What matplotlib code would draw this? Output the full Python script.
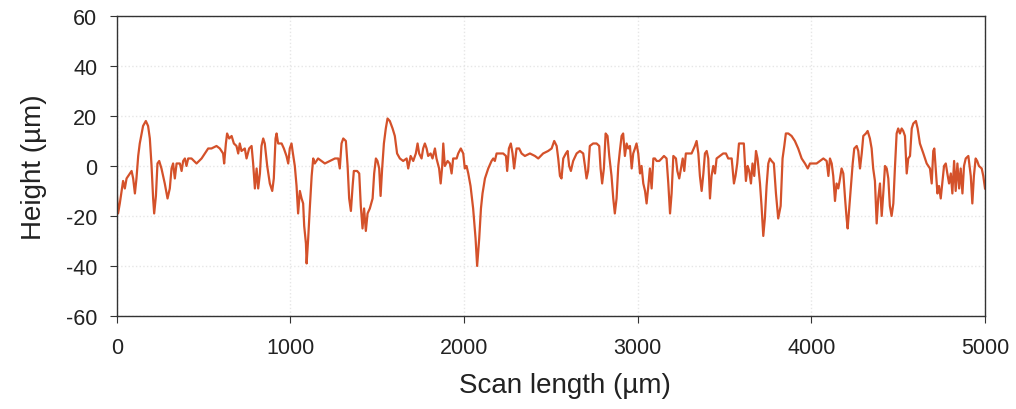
import numpy as np
import matplotlib
matplotlib.use("Agg")
import matplotlib.pyplot as plt

plt.rcParams['font.family'] = ['Liberation Sans', 'DejaVu Sans']
plt.rcParams['axes.unicode_minus'] = False

# surface profile (scan position in um, height in um)
scan_um = [
    0, 7, 17, 36, 46, 56, 75, 85, 94, 104, 113, 123, 132, 151, 167, 180, 190, 200, 209, 215,
    225, 234, 244, 257, 276, 292, 305, 315, 324, 334, 344, 363, 373, 382, 392, 401, 411, 430, 459, 488,
    517, 526, 545, 574, 593, 612, 618, 628, 635, 647, 661, 674, 689, 699, 708, 718, 737, 747, 762, 776,
    785, 795, 805, 814, 824, 833, 843, 852, 866, 881, 895, 904, 914, 920, 929, 949, 962, 977, 987, 996,
    1006, 1012, 1025, 1035, 1044, 1054, 1064, 1073, 1079, 1089, 1093, 1102, 1112, 1122, 1131, 1140, 1159, 1179, 1198, 1227,
    1256, 1275, 1284, 1294, 1304, 1319, 1329, 1338, 1348, 1358, 1365, 1384, 1396, 1405, 1415, 1424, 1434, 1444, 1457, 1473,
    1482, 1492, 1501, 1511, 1519, 1528, 1538, 1549, 1559, 1572, 1588, 1601, 1614, 1630, 1649, 1669, 1678, 1692, 1707, 1722,
    1732, 1741, 1755, 1764, 1774, 1784, 1793, 1807, 1818, 1832, 1841, 1856, 1865, 1874, 1880, 1889, 1905, 1918, 1928, 1937,
    1957, 1966, 1981, 1995, 2004, 2014, 2024, 2037, 2052, 2066, 2075, 2087, 2097, 2106, 2120, 2139, 2158, 2168, 2177, 2187,
    2196, 2225, 2241, 2248, 2258, 2269, 2279, 2288, 2302, 2317, 2331, 2350, 2379, 2408, 2427, 2455, 2484, 2504, 2519, 2533,
    2542, 2552, 2561, 2571, 2586, 2596, 2605, 2615, 2628, 2648, 2667, 2686, 2696, 2705, 2714, 2724, 2743, 2763, 2778, 2786,
    2795, 2805, 2815, 2826, 2836, 2849, 2859, 2868, 2878, 2888, 2897, 2907, 2916, 2926, 2936, 2945, 2955, 2965, 2974, 2984,
    2993, 3003, 3013, 3022, 3032, 3042, 3051, 3061, 3070, 3080, 3090, 3099, 3109, 3124, 3138, 3151, 3166, 3176, 3186, 3195,
    3205, 3220, 3228, 3239, 3249, 3259, 3268, 3277, 3291, 3310, 3329, 3339, 3349, 3358, 3368, 3378, 3387, 3397, 3406, 3416,
    3425, 3435, 3445, 3454, 3473, 3492, 3508, 3521, 3541, 3554, 3563, 3573, 3583, 3598, 3611, 3623, 3633, 3642, 3652, 3661,
    3671, 3681, 3690, 3704, 3713, 3723, 3732, 3742, 3752, 3761, 3771, 3784, 3796, 3809, 3823, 3834, 3844, 3853, 3867, 3886,
    3905, 3924, 3944, 3963, 3979, 3992, 4011, 4030, 4049, 4069, 4088, 4098, 4107, 4117, 4126, 4136, 4145, 4155, 4165, 4174,
    4184, 4194, 4203, 4209, 4218, 4228, 4238, 4247, 4261, 4270, 4280, 4290, 4299, 4314, 4324, 4337, 4347, 4356, 4366, 4376,
    4385, 4395, 4405, 4414, 4424, 4434, 4443, 4452, 4462, 4472, 4481, 4491, 4500, 4510, 4520, 4529, 4539, 4549, 4558, 4568,
    4578, 4587, 4602, 4612, 4625, 4645, 4664, 4683, 4693, 4702, 4708, 4716, 4726, 4735, 4745, 4754, 4764, 4774, 4783, 4793,
    4803, 4812, 4822, 4831, 4841, 4851, 4860, 4870, 4879, 4889, 4904, 4918, 4927, 4936, 4946, 4955, 4965, 4981, 4990, 5000,
]
height_um = [
    -11, -19, -15, -6, -9, -5, -3, -2, -5, -11, -5, 4, 9, 16, 18, 16, 11, 0, -13, -19,
    -12, 1, 2, -1, -7, -13, -9, -1, 1, -5, 1, 1, -2, 2, 3, 0, 3, 3, 1, 3,
    6, 7, 7, 8, 7, 5, 1, 9, 13, 11, 12, 9, 8, 5, 9, 6, 7, 3, 7, 8,
    1, -9, -1, -9, -3, 8, 11, 9, 0, -7, -10, -5, 11, 13, 9, 9, 7, 4, 1, 7,
    9, 6, 0, -8, -19, -10, -13, -15, -24, -31, -39, -29, -16, -4, 3, 1, 3, 2, 1, 2,
    3, 3, -1, 9, 11, 10, 0, -13, -18, -8, -2, -2, -3, -16, -25, -17, -26, -19, -17, -13,
    -3, 3, 2, -1, -12, -1, 9, 15, 19, 18, 15, 12, 5, 3, 2, 3, -1, 4, 2, 5,
    9, 5, 3, 7, 9, 7, 4, 5, 3, 7, 3, -1, -7, 0, 9, 0, 2, 1, -3, 3,
    3, 5, 7, 5, -1, 0, -3, -8, -17, -29, -40, -29, -17, -11, -5, -1, 2, 3, 2, 5,
    5, 5, 4, -2, 7, 9, 5, -1, 7, 7, 5, 4, 5, 4, 3, 5, 6, 7, 10, 8,
    3, -4, -5, 3, 5, 6, 0, -2, 2, 5, 6, 5, 0, -5, -2, 8, 9, 9, 8, -1,
    -7, -1, 13, 12, 4, -4, -13, -19, -13, 0, 6, 12, 13, 4, 9, 7, 8, -1, 5, 7,
    9, 5, -3, 0, -7, -10, -15, -8, -1, -9, 3, 3, 2, 2, 3, 4, 3, -7, -19, -11,
    4, 3, -2, -5, -1, 3, -2, 5, 5, 5, 8, 10, 5, -4, -10, -3, 5, 6, 3, -13,
    -4, 0, -3, 3, 4, 5, 5, 3, 3, -7, -4, 1, 9, 9, 9, -6, 0, -2, -7, 1,
    -4, 6, 3, -7, -16, -28, -21, -8, 1, 3, 2, 1, -11, -21, -16, 3, 8, 13, 13, 12,
    10, 7, 3, 1, -1, 1, 1, 1, 2, 3, 2, -4, 3, 1, -4, -14, -7, -9, -5, -1,
    -3, -13, -21, -25, -17, -8, 1, 7, 8, 6, -1, 5, 12, 13, 14, 11, 7, -1, -6, -23,
    -13, -7, -20, -11, 0, -1, -5, -16, -20, -15, -1, 13, 15, 13, 15, 14, 12, -3, 3, 4,
    15, 17, 18, 15, 9, 5, 1, -1, -7, 6, 7, -1, -11, -8, -13, -7, 0, 1, -3, -7,
    -3, -11, 2, -10, 1, -9, -1, -11, 0, 3, 4, -4, -15, -4, 3, 2, 0, -1, -4, -9,
]

x_ticks = [0, 1000, 2000, 3000, 4000, 5000]
y_ticks = [-60, -40, -20, 0, 20, 40, 60]

fig = plt.figure(figsize=(10.16, 4.10), dpi=100)
ax = fig.add_axes([0.115, 0.227, 0.8545, 0.7315])

ax.plot(scan_um, height_um, color='#d4512a', linewidth=1.6, solid_joinstyle='round')

ax.set_xlim(0, 5000)
ax.set_ylim(-60, 60)
ax.set_xticks(x_ticks)
ax.set_yticks(y_ticks)
ax.tick_params(labelsize=15.5, length=5, color='#333333', labelcolor='#222222')
ax.tick_params(axis='x', pad=10)
ax.tick_params(axis='y', pad=9)

# faint dotted grid like the scanned original
ax.grid(True, color='#e6e6e6', linestyle=':', linewidth=1)
ax.set_axisbelow(True)

for side in ax.spines.values():
    side.set_color('#333333')
    side.set_linewidth(1.0)

ax.set_xlabel('Scan length (µm)', fontsize=20, labelpad=10, color='#222222')
ax.xaxis.label.set_x(0.516)
ax.set_ylabel('Height (µm)', fontsize=20, labelpad=14, color='#222222')

fig.savefig('out.png', dpi=100)
